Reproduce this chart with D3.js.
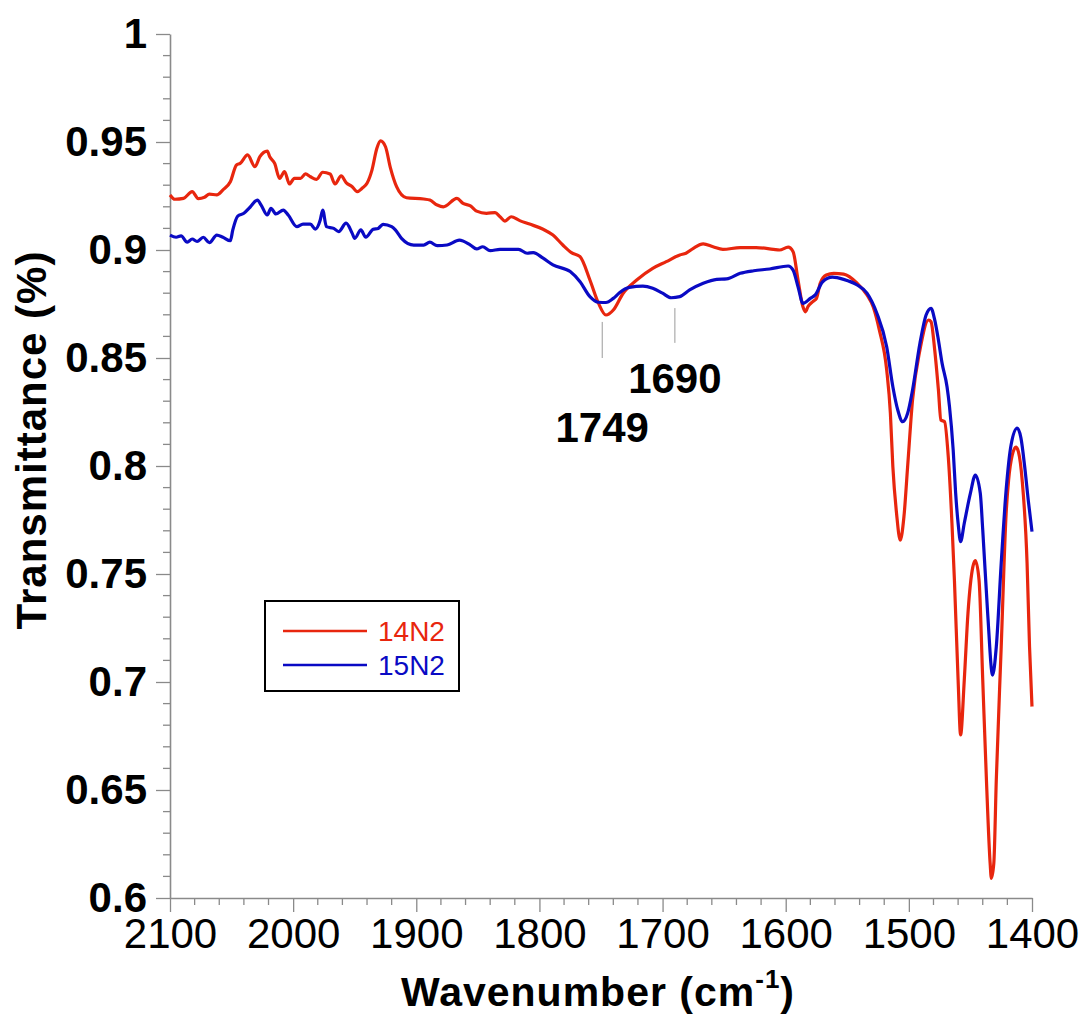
<!DOCTYPE html>
<html>
<head>
<meta charset="utf-8">
<script src="https://cdn.jsdelivr.net/npm/d3@7"></script>
<style>
  html, body { margin: 0; padding: 0; background: #fff; }
  svg { display: block; font-family: "Liberation Sans", Arial, sans-serif; }
</style>
</head>
<body>
<svg id="chart" width="1084" height="1017"></svg>
<script>
// FTIR spectra: [wavenumber (cm-1), transmittance]
const spectrum14N2 = [
  [2100,0.9255],[2096,0.9235],[2089,0.9239],[2082,0.927],[2077,0.9238],[2072,0.9244],[2068,0.9259],[2062,0.9255],
  [2057,0.9278],[2051,0.9316],[2046,0.9394],[2043,0.9401],[2037,0.944],[2031,0.9386],[2027,0.9432],[2021,0.9458],
  [2019,0.9432],[2015,0.9401],[2011,0.9332],[2007,0.9363],[2003,0.9306],[1999,0.9332],[1994,0.9332],[1990,0.9352],
  [1986,0.9339],[1981,0.9327],[1976,0.936],[1970,0.9352],[1966,0.9306],[1961,0.9343],[1957,0.9312],[1952,0.9293],
  [1948,0.927],[1944,0.9286],[1940,0.9309],[1936,0.937],[1932,0.9471],[1929,0.9505],[1925,0.9478],[1921,0.938],
  [1916,0.9293],[1908,0.9242],[1894,0.9236],[1889,0.9231],[1883,0.9208],[1878,0.92],[1867,0.9239],[1862,0.9216],
  [1856,0.9204],[1851,0.918],[1843,0.917],[1836,0.9173],[1832,0.9154],[1828,0.9134],[1823,0.9154],[1816,0.9136],
  [1808,0.912],[1797,0.9096],[1789,0.9069],[1781,0.9023],[1774,0.8988],[1767,0.8969],[1759,0.8861],[1752,0.8753],
  [1746,0.8699],[1740,0.8722],[1732,0.88],[1721,0.8861],[1708,0.8915],[1697,0.8946],[1686,0.8977],[1681,0.8985],
  [1675,0.9008],[1667,0.9028],[1659,0.9015],[1651,0.9003],[1637,0.9011],[1624,0.9011],[1610,0.9003],[1605,0.9],
  [1598,0.9013],[1594,0.8992],[1590,0.8861],[1586,0.8737],[1584,0.8714],[1582,0.8737],[1578,0.8761],[1575,0.8776],
  [1572,0.8846],[1567,0.8884],[1561,0.8892],[1553,0.8888],[1542,0.8846],[1534,0.8792],[1529,0.8737],[1524,0.863],
  [1518,0.8445],[1515,0.8244],[1513,0.7997],[1510,0.7781],[1507,0.7657],[1504,0.7765],[1501,0.7997],[1497,0.8306],
  [1491,0.8537],[1484,0.8676],[1482,0.8668],[1479,0.8537],[1476,0.8352],[1474,0.8213],[1471,0.8205],[1468,0.8043],
  [1465,0.7735],[1463,0.7472],[1460,0.7009],[1458,0.6755],[1455,0.7009],[1452,0.7318],[1448,0.7534],[1446,0.7562],
  [1443,0.7472],[1440,0.7009],[1437,0.6546],[1434,0.6161],[1433,0.6091],[1431,0.6161],[1429,0.6546],[1425,0.7163],
  [1421,0.7781],[1419,0.7935],[1416,0.8051],[1413,0.8087],[1411,0.8065],[1408,0.7935],[1404,0.755],[1402,0.7163],
  [1400,0.6886]
];

const spectrum15N2 = [
  [2100,0.9069],[2095,0.9059],[2091,0.9065],[2086,0.9036],[2082,0.9051],[2078,0.904],[2073,0.9059],[2068,0.9034],
  [2062,0.9069],[2057,0.9059],[2051,0.9043],[2049,0.9093],[2045,0.9157],[2040,0.917],[2035,0.9198],[2029,0.9231],
  [2026,0.9208],[2021,0.9162],[2018,0.9193],[2014,0.9167],[2008,0.9185],[2004,0.9162],[1997,0.9108],[1992,0.912],
  [1986,0.912],[1982,0.9097],[1978,0.9139],[1976,0.9185],[1973,0.9108],[1967,0.91],[1963,0.9085],[1957,0.9124],
  [1952,0.9077],[1950,0.9054],[1945,0.9093],[1941,0.9059],[1935,0.9096],[1931,0.91],[1927,0.9119],[1920,0.9108],
  [1917,0.9093],[1912,0.9054],[1902,0.9023],[1894,0.9023],[1889,0.9036],[1883,0.902],[1875,0.9023],[1865,0.9046],
  [1856,0.9023],[1851,0.9005],[1846,0.9015],[1840,0.8997],[1832,0.9003],[1817,0.9003],[1810,0.8985],[1805,0.8988],
  [1797,0.8962],[1789,0.8931],[1775,0.89],[1767,0.8853],[1759,0.8784],[1752,0.8758],[1746,0.8757],[1740,0.8776],
  [1735,0.8802],[1727,0.8827],[1716,0.8833],[1708,0.8823],[1700,0.88],[1693,0.8779],[1686,0.8784],[1678,0.8815],
  [1667,0.8846],[1656,0.8864],[1648,0.8866],[1637,0.8892],[1626,0.8904],[1613,0.8912],[1598,0.8926],[1594,0.8907],
  [1590,0.883],[1586,0.8753],[1580,0.8776],[1576,0.8792],[1570,0.8853],[1562,0.8874],[1553,0.8864],[1542,0.8838],
  [1534,0.88],[1526,0.8707],[1518,0.8552],[1513,0.8367],[1509,0.8259],[1505,0.8205],[1501,0.8244],[1497,0.8352],
  [1491,0.8568],[1486,0.8699],[1482,0.873],[1479,0.8676],[1476,0.8583],[1473,0.8475],[1469,0.8367],[1467,0.8275],
  [1464,0.8074],[1462,0.7874],[1460,0.7735],[1458,0.765],[1455,0.7735],[1450,0.7874],[1446,0.7958],[1442,0.7874],
  [1440,0.7704],[1436,0.7318],[1432,0.7032],[1429,0.7163],[1425,0.755],[1421,0.7889],[1417,0.8097],[1412,0.8175],
  [1409,0.813],[1406,0.80],[1403,0.784],[1400,0.7696]
];

const seriesNames = ["14N2", "15N2"];
const seriesColors = ["#e8260e", "#0a0ac4"];

const xTicks = [2100, 2000, 1900, 1800, 1700, 1600, 1500, 1400];
const xTickLabels = ["2100", "2000", "1900", "1800", "1700", "1600", "1500", "1400"];
const yTicks = [0.6, 0.65, 0.7, 0.75, 0.8, 0.85, 0.9, 0.95, 1];
const yTickLabels = ["0.6", "0.65", "0.7", "0.75", "0.8", "0.85", "0.9", "0.95", "1"];

// peak markers: wavenumber, label, and the transmittance span of the marker line
const peakMarks = [
  { wn: 1749, label: "1749", top: 0.8667, bottom: 0.850, labelDy: 84 },
  { wn: 1690, label: "1690", top: 0.8731, bottom: 0.857, labelDy: 50 }
];

const svg = d3.select("#chart");
const plot = { left: 170, right: 1032, top: 34, bottom: 898 };

const x = d3.scaleLinear().domain([2100, 1400]).range([plot.left, plot.right]);
const y = d3.scaleLinear().domain([0.6, 1]).range([plot.bottom, plot.top]);

const axisColor = "#8a8a8a";

// minor ticks
const xMinor = d3.range(2100, 1399, -20).filter(v => v % 100 !== 0);
const yMinor = d3.range(60, 101, 1).map(v => v / 100).filter(v => Math.round(v * 100) % 5 !== 0);

svg.append("g").selectAll("line").data(xMinor).join("line")
  .attr("x1", d => x(d)).attr("x2", d => x(d))
  .attr("y1", plot.bottom).attr("y2", plot.bottom + 7)
  .attr("stroke", axisColor).attr("stroke-width", 1.3);

svg.append("g").selectAll("line").data(yMinor).join("line")
  .attr("x1", plot.left - 7).attr("x2", plot.left)
  .attr("y1", d => y(d)).attr("y2", d => y(d))
  .attr("stroke", axisColor).attr("stroke-width", 1.3);

// x axis
const xAxis = svg.append("g")
  .attr("transform", `translate(0,${plot.bottom})`)
  .call(d3.axisBottom(x).tickValues(xTicks)
    .tickFormat((d, i) => xTickLabels[i])
    .tickSize(14).tickSizeOuter(0).tickPadding(6));
xAxis.select(".domain").attr("stroke", axisColor).attr("stroke-width", 1.6);
xAxis.selectAll(".tick line").attr("stroke", axisColor).attr("stroke-width", 1.3);
xAxis.selectAll(".tick text")
  .attr("fill", "#000").attr("font-size", 42)
  .attr("font-family", "'Liberation Sans', Arial, sans-serif");

// y axis
const yAxis = svg.append("g")
  .attr("transform", `translate(${plot.left},0)`)
  .call(d3.axisLeft(y).tickValues(yTicks)
    .tickFormat((d, i) => yTickLabels[i])
    .tickSize(14).tickSizeOuter(0).tickPadding(9));
yAxis.select(".domain").attr("stroke", axisColor).attr("stroke-width", 1.6);
yAxis.selectAll(".tick line").attr("stroke", axisColor).attr("stroke-width", 1.3);
yAxis.selectAll(".tick text")
  .attr("fill", "#000").attr("font-size", 42).attr("font-weight", "bold")
  .attr("font-family", "'Liberation Sans', Arial, sans-serif");

// spectra
const line = d3.line()
  .x(d => x(d[0])).y(d => y(d[1]))
  .curve(d3.curveMonotoneX);

[spectrum14N2, spectrum15N2].forEach((s, i) => {
  svg.append("path")
    .datum(s)
    .attr("fill", "none")
    .attr("stroke", seriesColors[i])
    .attr("stroke-width", 3.2)
    .attr("stroke-linejoin", "round")
    .attr("d", line);
});

// peak markers
const marks = svg.append("g");
peakMarks.forEach(p => {
  marks.append("line")
    .attr("x1", x(p.wn)).attr("x2", x(p.wn))
    .attr("y1", y(p.top)).attr("y2", y(p.bottom))
    .attr("stroke", "#9a9a9a").attr("stroke-width", 1);
  marks.append("text")
    .attr("x", x(p.wn)).attr("y", y(p.bottom) + p.labelDy)
    .attr("text-anchor", "middle")
    .attr("font-size", 42).attr("font-weight", "bold")
    .attr("fill", "#000")
    .text(p.label);
});

// axis titles
const xTitle = svg.append("text")
  .attr("x", (plot.left + plot.right) / 2 - 3)
  .attr("y", 1006)
  .attr("text-anchor", "middle")
  .attr("font-size", 41).attr("font-weight", "bold")
  .attr("letter-spacing", 1)
  .attr("fill", "#000");
xTitle.append("tspan").text("Wavenumber (cm");
xTitle.append("tspan").attr("font-size", 26).attr("dy", -18).text("-1");
xTitle.append("tspan").attr("dy", 18).text(")");

svg.append("text")
  .attr("transform", `translate(46,440) rotate(-90)`)
  .attr("text-anchor", "middle")
  .attr("font-size", 42).attr("font-weight", "bold")
  .attr("letter-spacing", 1)
  .attr("fill", "#000")
  .text("Transmittance (%)");

// legend
const legend = svg.append("g").attr("transform", "translate(265,601)");
legend.append("rect")
  .attr("x", 0).attr("y", 0).attr("width", 194).attr("height", 90)
  .attr("fill", "#fff").attr("stroke", "#000").attr("stroke-width", 2);
seriesNames.forEach((name, i) => {
  const ly = 30 + i * 34;
  legend.append("line")
    .attr("x1", 18).attr("x2", 102).attr("y1", ly).attr("y2", ly)
    .attr("stroke", seriesColors[i]).attr("stroke-width", 2.5);
  legend.append("text")
    .attr("x", 113).attr("y", ly + 10)
    .attr("font-size", 28)
    .attr("fill", seriesColors[i])
    .text(name);
});
</script>
</body>
</html>
